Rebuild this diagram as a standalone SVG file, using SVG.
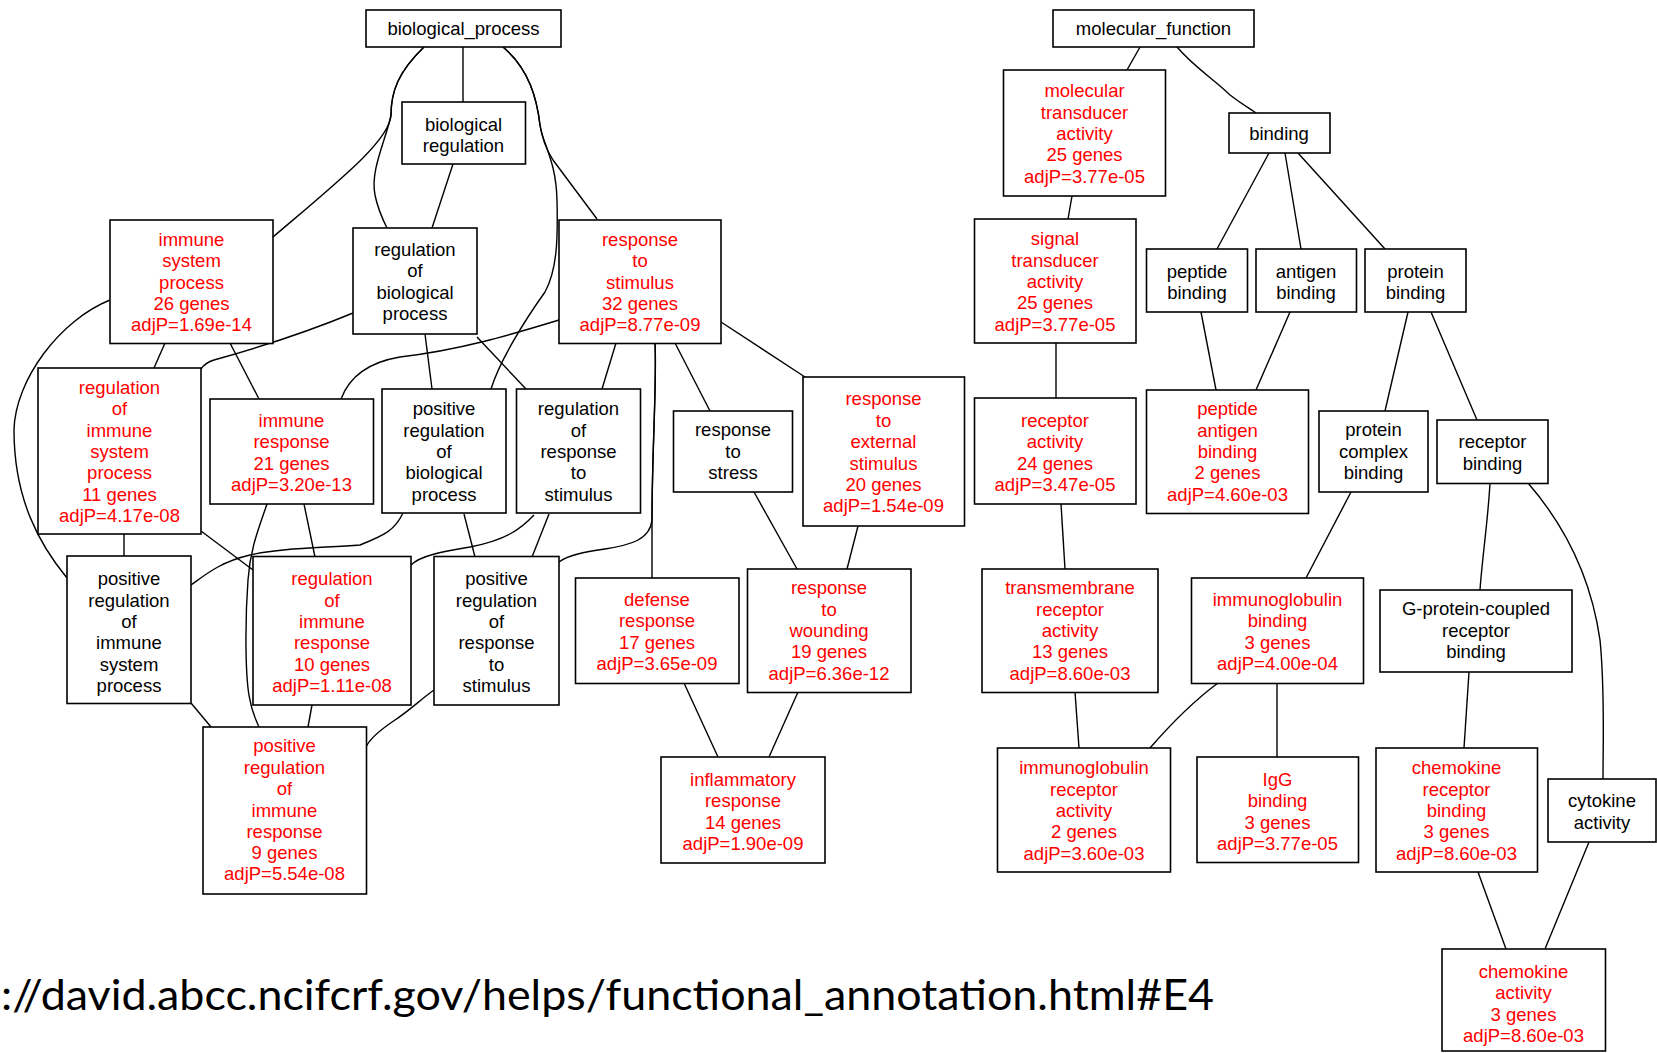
<svg xmlns="http://www.w3.org/2000/svg" width="1657" height="1053" viewBox="0 0 1657 1053">
<style>
.n rect{fill:#fff;stroke:#000;stroke-width:1.6}
.n text{font-family:"Liberation Sans",Arial,sans-serif;font-size:18.5px;text-anchor:middle;dominant-baseline:central}
.r text{fill:#f00}
.k text{fill:#000}
#edges path{fill:none;stroke:#000;stroke-width:1.4}
.url{font-family:Lato,"Open Sans",sans-serif;font-size:42px;fill:#000}
</style>
<rect width="1657" height="1053" fill="#fff"/>
<g id="edges">
<path d="M463,47 L463,102"/>
<path d="M424,47 C398,72 391,92 391,115 C390,140 340,180 273,237"/>
<path d="M424,47 C398,72 391,92 391,115 C386,140 370,170 375,195 C378,210 383,220 387,228"/>
<path d="M503,47 C530,70 537,100 540,125 C543,145 550,155 553,160 L597,219"/>
<path d="M503,47 C530,70 537,100 540,125 C543,145 556,160 557,200 C558,240 557,270 545,292 C525,320 500,360 491,389"/>
<path d="M453,164 L432,228"/>
<path d="M425,334 L432,389"/>
<path d="M477,337 L526,389"/>
<path d="M353,313 C300,335 250,350 214,360 C207,362 203,366 201,369"/>
<path d="M165,343 L154,368"/>
<path d="M230,343 L259,399"/>
<path d="M110,300 C60,320 15,380 14,430 C14,500 40,545 67,578"/>
<path d="M559,320 C510,335 460,350 400,357 C370,362 350,375 341,399"/>
<path d="M616,343 L602,389"/>
<path d="M675,343 L710,411"/>
<path d="M721,322 L805,377"/>
<path d="M655,343 C657,380 652,450 652,520 L652,578"/>
<path d="M655,343 C657,380 652,450 652,520 C650,540 630,545 605,549 C585,552 568,555 559,562"/>
<path d="M124,534 L124,556"/>
<path d="M201,531 L253,570"/>
<path d="M304,504 L315,557"/>
<path d="M267,504 C258,530 250,550 248,580 C245,620 245,680 250,700 C252,712 256,720 259,727"/>
<path d="M403,513 C395,530 385,535 360,545 C320,548 280,548 250,555 C220,562 205,575 191,585"/>
<path d="M464,514 L475,557"/>
<path d="M549,514 L532,557"/>
<path d="M534,515 C520,530 505,540 470,547 C440,552 420,556 411,565"/>
<path d="M191,703 L211,727"/>
<path d="M312,705 L308,727"/>
<path d="M434,690 C420,700 410,710 395,720 C380,730 370,738 366,747"/>
<path d="M754,492 L797,569"/>
<path d="M858,526 L847,569"/>
<path d="M684,683 L718,757"/>
<path d="M798,692 L769,757"/>
<path d="M1140,47 L1127,70"/>
<path d="M1177,47 C1195,68 1215,80 1230,95 C1243,105 1252,110 1256,113"/>
<path d="M1072,196 L1068,219"/>
<path d="M1269,153 L1217,249"/>
<path d="M1285,153 L1301,249"/>
<path d="M1298,153 L1385,249"/>
<path d="M1056,343 L1056,398"/>
<path d="M1201,312 L1216,390"/>
<path d="M1290,312 L1256,390"/>
<path d="M1408,312 L1385,411"/>
<path d="M1431,312 L1477,420"/>
<path d="M1061,504 L1065,569"/>
<path d="M1351,492 L1306,578"/>
<path d="M1490,483 C1488,520 1482,560 1480,590"/>
<path d="M1528,483 C1560,520 1590,570 1600,640 C1605,690 1603,740 1603,779"/>
<path d="M1075,692 L1079,748"/>
<path d="M1218,683 C1195,700 1170,725 1150,748"/>
<path d="M1277,683 L1277,757"/>
<path d="M1469,672 L1464,748"/>
<path d="M1478,872 L1506,949"/>
<path d="M1589,842 L1545,949"/>
</g>
<g id="biological_process" class="n k"><rect x="366" y="10" width="195" height="37"/><text x="463.5" y="28">biological_process</text></g>
<g id="biological_regulation" class="n k"><rect x="402" y="102" width="123.5" height="62"/><text x="463.5" y="124">biological<tspan x="463.5" y="145">regulation</tspan></text></g>
<g id="immune_system_process" class="n r"><rect x="110" y="220" width="163" height="123.5"/><text x="191.5" y="239">immune<tspan x="191.5" y="260.3">system</tspan><tspan x="191.5" y="281.6">process</tspan><tspan x="191.5" y="302.9">26 genes</tspan><tspan x="191.5" y="324.2">adjP=1.69e-14</tspan></text></g>
<g id="regulation_of_biological_process" class="n k"><rect x="353" y="228" width="124" height="106"/><text x="415" y="249">regulation<tspan x="415" y="270.4">of</tspan><tspan x="415" y="291.7">biological</tspan><tspan x="415" y="313">process</tspan></text></g>
<g id="response_to_stimulus" class="n r"><rect x="559" y="220" width="162" height="123.5"/><text x="640" y="239">response<tspan x="640" y="260.3">to</tspan><tspan x="640" y="281.6">stimulus</tspan><tspan x="640" y="302.9">32 genes</tspan><tspan x="640" y="324.2">adjP=8.77e-09</tspan></text></g>
<g id="molecular_function" class="n k"><rect x="1053" y="10" width="201" height="37"/><text x="1153.5" y="28">molecular_function</text></g>
<g id="molecular_transducer_activity" class="n r"><rect x="1003.5" y="70" width="162" height="126"/><text x="1084.5" y="90.4">molecular<tspan x="1084.5" y="111.7">transducer</tspan><tspan x="1084.5" y="133">activity</tspan><tspan x="1084.5" y="154.3">25 genes</tspan><tspan x="1084.5" y="175.6">adjP=3.77e-05</tspan></text></g>
<g id="binding" class="n k"><rect x="1229" y="113" width="101" height="40"/><text x="1279" y="133">binding</text></g>
<g id="signal_transducer_activity" class="n r"><rect x="974.5" y="219" width="161.5" height="124"/><text x="1055" y="238.4">signal<tspan x="1055" y="259.7">transducer</tspan><tspan x="1055" y="281">activity</tspan><tspan x="1055" y="302.3">25 genes</tspan><tspan x="1055" y="323.6">adjP=3.77e-05</tspan></text></g>
<g id="peptide_binding" class="n k"><rect x="1146.5" y="249" width="101" height="63"/><text x="1197" y="271">peptide<tspan x="1197" y="292">binding</tspan></text></g>
<g id="antigen_binding" class="n k"><rect x="1256" y="249" width="100.5" height="63"/><text x="1306" y="271">antigen<tspan x="1306" y="292">binding</tspan></text></g>
<g id="protein_binding" class="n k"><rect x="1365" y="249" width="101" height="63"/><text x="1415.5" y="271">protein<tspan x="1415.5" y="292">binding</tspan></text></g>
<g id="regulation_of_immune_system_process" class="n r"><rect x="38" y="368" width="163" height="166"/><text x="119.5" y="387.1">regulation<tspan x="119.5" y="408.4">of</tspan><tspan x="119.5" y="429.7">immune</tspan><tspan x="119.5" y="451">system</tspan><tspan x="119.5" y="472.3">process</tspan><tspan x="119.5" y="493.6">11 genes</tspan><tspan x="119.5" y="514.9">adjP=4.17e-08</tspan></text></g>
<g id="immune_response" class="n r"><rect x="210" y="399" width="163.5" height="105"/><text x="291.5" y="420">immune<tspan x="291.5" y="441.4">response</tspan><tspan x="291.5" y="462.7">21 genes</tspan><tspan x="291.5" y="484">adjP=3.20e-13</tspan></text></g>
<g id="positive_regulation_of_biological_process" class="n k"><rect x="382" y="389" width="124" height="124"/><text x="444" y="408.4">positive<tspan x="444" y="429.7">regulation</tspan><tspan x="444" y="451">of</tspan><tspan x="444" y="472.3">biological</tspan><tspan x="444" y="493.6">process</tspan></text></g>
<g id="regulation_of_response_to_stimulus" class="n k"><rect x="516.5" y="389" width="124" height="124"/><text x="578.5" y="408.4">regulation<tspan x="578.5" y="429.7">of</tspan><tspan x="578.5" y="451">response</tspan><tspan x="578.5" y="472.3">to</tspan><tspan x="578.5" y="493.6">stimulus</tspan></text></g>
<g id="response_to_stress" class="n k"><rect x="673.5" y="411" width="119" height="81"/><text x="733" y="429.7">response<tspan x="733" y="451">to</tspan><tspan x="733" y="472.3">stress</tspan></text></g>
<g id="response_to_external_stimulus" class="n r"><rect x="803" y="377" width="161.5" height="149"/><text x="883.5" y="398.8">response<tspan x="883.5" y="420">to</tspan><tspan x="883.5" y="441.4">external</tspan><tspan x="883.5" y="462.7">stimulus</tspan><tspan x="883.5" y="484">20 genes</tspan><tspan x="883.5" y="505.3">adjP=1.54e-09</tspan></text></g>
<g id="receptor_activity" class="n r"><rect x="974.5" y="398" width="161.5" height="106"/><text x="1055" y="420">receptor<tspan x="1055" y="441.4">activity</tspan><tspan x="1055" y="462.7">24 genes</tspan><tspan x="1055" y="484">adjP=3.47e-05</tspan></text></g>
<g id="peptide_antigen_binding" class="n r"><rect x="1146.5" y="390" width="162" height="123.5"/><text x="1227.5" y="408.4">peptide<tspan x="1227.5" y="429.7">antigen</tspan><tspan x="1227.5" y="451">binding</tspan><tspan x="1227.5" y="472.3">2 genes</tspan><tspan x="1227.5" y="493.6">adjP=4.60e-03</tspan></text></g>
<g id="protein_complex_binding" class="n k"><rect x="1319" y="411" width="109" height="81"/><text x="1373.5" y="429.7">protein<tspan x="1373.5" y="451">complex</tspan><tspan x="1373.5" y="472.3">binding</tspan></text></g>
<g id="receptor_binding" class="n k"><rect x="1437" y="420" width="111" height="63.5"/><text x="1492.5" y="441.4">receptor<tspan x="1492.5" y="462.7">binding</tspan></text></g>
<g id="positive_regulation_of_immune_system_process" class="n k"><rect x="67" y="556" width="124" height="147.5"/><text x="129" y="578.3">positive<tspan x="129" y="599.6">regulation</tspan><tspan x="129" y="620.9">of</tspan><tspan x="129" y="642.2">immune</tspan><tspan x="129" y="663.5">system</tspan><tspan x="129" y="684.8">process</tspan></text></g>
<g id="regulation_of_immune_response" class="n r"><rect x="253" y="556.5" width="158" height="148.5"/><text x="332" y="578.3">regulation<tspan x="332" y="599.6">of</tspan><tspan x="332" y="620.9">immune</tspan><tspan x="332" y="642.2">response</tspan><tspan x="332" y="663.5">10 genes</tspan><tspan x="332" y="684.8">adjP=1.11e-08</tspan></text></g>
<g id="positive_regulation_of_response_to_stimulus" class="n k"><rect x="434" y="556.5" width="125" height="148.5"/><text x="496.5" y="578.3">positive<tspan x="496.5" y="599.6">regulation</tspan><tspan x="496.5" y="620.9">of</tspan><tspan x="496.5" y="642.2">response</tspan><tspan x="496.5" y="663.5">to</tspan><tspan x="496.5" y="684.8">stimulus</tspan></text></g>
<g id="defense_response" class="n r"><rect x="575.5" y="578" width="163.5" height="105.5"/><text x="657" y="599">defense<tspan x="657" y="620.4">response</tspan><tspan x="657" y="641.7">17 genes</tspan><tspan x="657" y="663">adjP=3.65e-09</tspan></text></g>
<g id="response_to_wounding" class="n r"><rect x="747.5" y="569" width="163.5" height="123.5"/><text x="829" y="587.4">response<tspan x="829" y="608.7">to</tspan><tspan x="829" y="630">wounding</tspan><tspan x="829" y="651.3">19 genes</tspan><tspan x="829" y="672.6">adjP=6.36e-12</tspan></text></g>
<g id="transmembrane_receptor_activity" class="n r"><rect x="982" y="569" width="176" height="123.5"/><text x="1070" y="587.4">transmembrane<tspan x="1070" y="608.7">receptor</tspan><tspan x="1070" y="630">activity</tspan><tspan x="1070" y="651.3">13 genes</tspan><tspan x="1070" y="672.6">adjP=8.60e-03</tspan></text></g>
<g id="immunoglobulin_binding" class="n r"><rect x="1191.5" y="578" width="172" height="105.5"/><text x="1277.5" y="599">immunoglobulin<tspan x="1277.5" y="620.4">binding</tspan><tspan x="1277.5" y="641.7">3 genes</tspan><tspan x="1277.5" y="663">adjP=4.00e-04</tspan></text></g>
<g id="g_protein_coupled_receptor_binding" class="n k"><rect x="1380" y="590" width="192" height="82"/><text x="1476" y="608.7">G-protein-coupled<tspan x="1476" y="630">receptor</tspan><tspan x="1476" y="651.3">binding</tspan></text></g>
<g id="positive_regulation_of_immune_response" class="n r"><rect x="203" y="727" width="163.5" height="167"/><text x="284.5" y="745.6">positive<tspan x="284.5" y="766.9">regulation</tspan><tspan x="284.5" y="788.2">of</tspan><tspan x="284.5" y="809.5">immune</tspan><tspan x="284.5" y="830.8">response</tspan><tspan x="284.5" y="852.1">9 genes</tspan><tspan x="284.5" y="873.4">adjP=5.54e-08</tspan></text></g>
<g id="inflammatory_response" class="n r"><rect x="661" y="757" width="164" height="106"/><text x="743" y="779">inflammatory<tspan x="743" y="800.4">response</tspan><tspan x="743" y="821.7">14 genes</tspan><tspan x="743" y="843">adjP=1.90e-09</tspan></text></g>
<g id="immunoglobulin_receptor_activity" class="n r"><rect x="997.5" y="748" width="173" height="124"/><text x="1084" y="767.4">immunoglobulin<tspan x="1084" y="788.7">receptor</tspan><tspan x="1084" y="810">activity</tspan><tspan x="1084" y="831.3">2 genes</tspan><tspan x="1084" y="852.6">adjP=3.60e-03</tspan></text></g>
<g id="igg_binding" class="n r"><rect x="1197" y="757" width="161.5" height="105.5"/><text x="1277.5" y="779">IgG<tspan x="1277.5" y="800.4">binding</tspan><tspan x="1277.5" y="821.7">3 genes</tspan><tspan x="1277.5" y="843">adjP=3.77e-05</tspan></text></g>
<g id="chemokine_receptor_binding" class="n r"><rect x="1376" y="748" width="161.5" height="124"/><text x="1456.5" y="767.4">chemokine<tspan x="1456.5" y="788.7">receptor</tspan><tspan x="1456.5" y="810">binding</tspan><tspan x="1456.5" y="831.3">3 genes</tspan><tspan x="1456.5" y="852.6">adjP=8.60e-03</tspan></text></g>
<g id="cytokine_activity" class="n k"><rect x="1548" y="779" width="108" height="63"/><text x="1602" y="800.4">cytokine<tspan x="1602" y="821.7">activity</tspan></text></g>
<g id="chemokine_activity" class="n r"><rect x="1442" y="949" width="163.5" height="102"/><text x="1523.5" y="971">chemokine<tspan x="1523.5" y="992.4">activity</tspan><tspan x="1523.5" y="1013.7">3 genes</tspan><tspan x="1523.5" y="1035">adjP=8.60e-03</tspan></text></g>
<text class="url" x="1" y="1010" textLength="1213" lengthAdjust="spacingAndGlyphs">://david.abcc.ncifcrf.gov/helps/functional_annotation.html#E4</text>
</svg>
